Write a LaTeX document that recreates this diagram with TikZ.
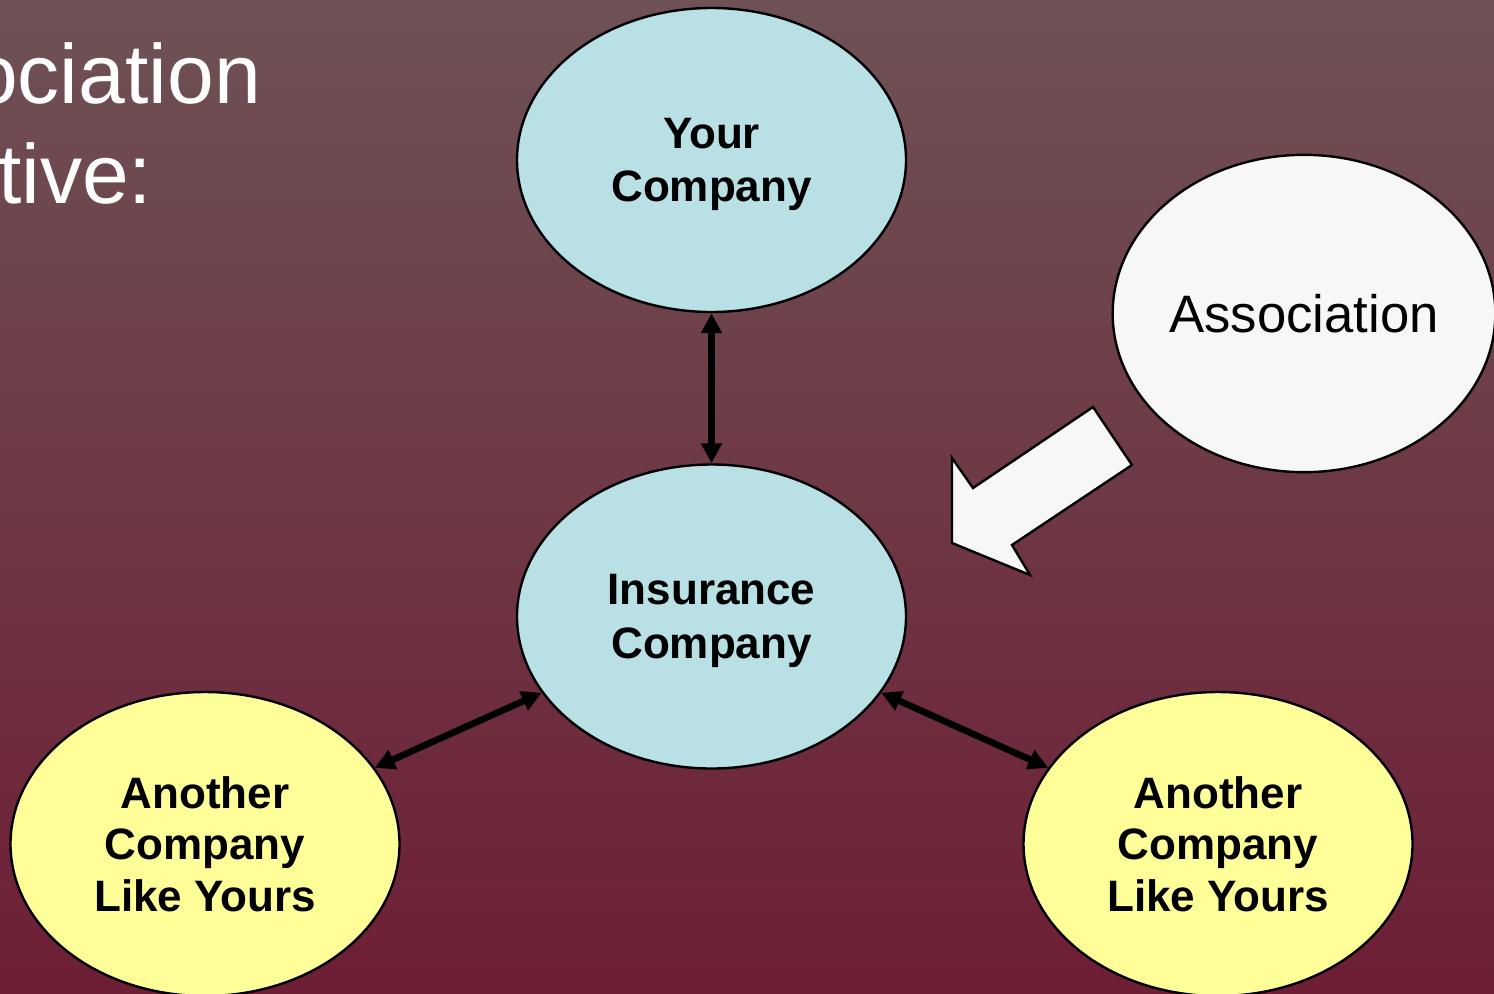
\documentclass[tikz,border=0pt]{standalone}
\usepackage{fontspec}
\setmainfont{Liberation Sans}
\usetikzlibrary{shapes.geometric,arrows.meta}

\definecolor{bgtop}{RGB}{110,82,85}
\definecolor{bgbot}{RGB}{110,30,53}
\definecolor{paleblue}{RGB}{185,224,228}
\definecolor{paleyellow}{RGB}{255,255,153}
\definecolor{offwhite}{RGB}{247,247,247}

\tikzset{
	blob/.style={ellipse,draw=black,line width=1.8pt,minimum width=291.75pt,minimum height=228pt,inner sep=0pt,align=center},
	firm/.style={blob,fill=paleblue,text depth=0pt,font=\fontsize{33}{40}\selectfont\bfseries},
	peer/.style={blob,fill=paleyellow,font=\fontsize{33}{38.5}\selectfont\bfseries},
	link/.style={line width=5pt,{Triangle[length=15pt,width=15pt]}-{Triangle[length=15pt,width=15pt]}},
	titletext/.style={anchor=base west,text=white,inner sep=0pt,font=\fontsize{63}{75}\selectfont}
}

\begin{document}
\begin{tikzpicture}[x=0.75pt,y=0.75pt,yscale=-1,xscale=1]
		\useasboundingbox (0,0) rectangle (1494,993);
		\clip (0,0) rectangle (1494,993);

		%Background
		\shade [top color=bgtop,bottom color=bgbot] (0,0) rectangle (1494,993);

		% Title Text (cut off at the left)
		\node [titletext] (titleA) at (-29,103) {ociation};
		\node [titletext] (titleB) at (-2,203) {tive:};

		% Ellipses
		\node [firm] (yours) at (711.5,160) {Your\\Company};
		\node [firm] (insurer) at (711.5,616.5) {Insurance\\Company};
		\node [peer] (peerL) at (205,844) {Another\\Company\\Like Yours};
		\node [peer] (peerR) at (1218,844) {Another\\Company\\Like Yours};
		\node [blob,fill=offwhite,minimum width=287pt,minimum height=238pt,font=\fontsize{39.5}{45}\selectfont] (assoc) at (1304,313.5) {Association};

		% Connectors
		\draw [link] (yours) -- (insurer);
		\draw [link] (insurer) -- (peerL);
		\draw [link] (insurer) -- (peerR);

		% Block Arrow
		\draw [fill=offwhite,line width=1.8pt,line join=miter] (952,458) -- (973,488) -- (1093,407) -- (1132,465) -- (1012,545) -- (1030,575) -- (952,543) -- cycle;

\end{tikzpicture}
\end{document}
